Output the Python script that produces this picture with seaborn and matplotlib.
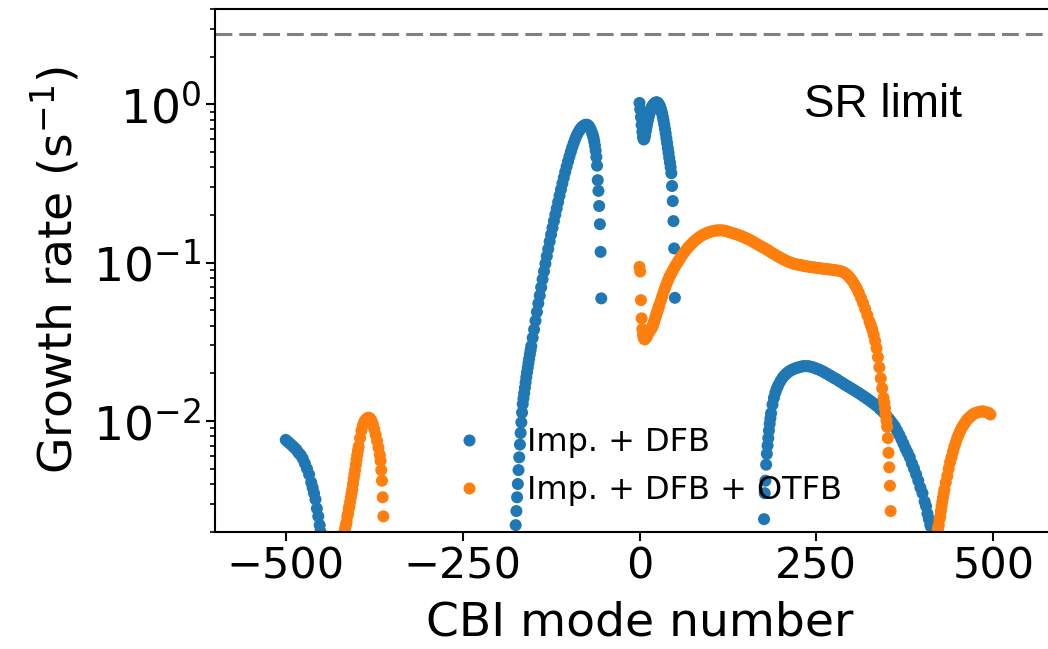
import matplotlib
matplotlib.use("Agg")
import matplotlib.pyplot as plt
import numpy as np
import pandas as pd
import seaborn as sns
from matplotlib.ticker import LogLocator, NullFormatter

# ---------------- data ----------------
series_labels = ["Imp. + DFB", "Imp. + DFB + OTFB"]
series_colors = ["#1f77b4", "#ff7f0e"]
sr_limit = 2.8

# Imp. + DFB (blue)
blue_modes_a = [-500, -497, -494, -491, -488, -485, -482, -479, -476, -473, -470, -467, -464, -462,
                -460, -458, -456, -454, -452, -451]
blue_rates_a = [0.0076, 0.0074, 0.0072, 0.0070, 0.0068, 0.0066, 0.0063, 0.0061, 0.0058, 0.0054,
                0.0050, 0.0046, 0.0041, 0.0038, 0.0035, 0.0032, 0.0028, 0.0025, 0.0022, 0.0020]

blue_modes_b = [-175, -174, -173, -172, -171, -170, -169, -168, -167, -166, -165, -164, -163, -162,
                -161, -160, -159, -158, -157, -156, -155, -154, -153, -151, -149, -147, -145, -143,
                -141, -139, -137, -135, -133, -131, -129, -127, -125, -123, -121, -119, -117, -115,
                -113, -111, -109, -107, -105, -103, -101, -99, -97, -95, -93, -91, -89, -87, -85,
                -83, -81, -79, -77, -75, -73, -71, -69, -67, -66, -65, -64, -63, -62, -61, -60,
                -59, -58, -57, -56, -55, -54]
blue_rates_b = [0.0022, 0.0027, 0.0033, 0.0040, 0.0049, 0.0059, 0.0071, 0.0084, 0.0098, 0.0113,
                0.0128, 0.0139, 0.0150, 0.0162, 0.0175, 0.0189, 0.0203, 0.0217, 0.0232, 0.0247,
                0.0263, 0.0280, 0.0297, 0.0335, 0.0378, 0.0430, 0.0488, 0.0553, 0.0620, 0.0698,
                0.0785, 0.0880, 0.0985, 0.1100, 0.1220, 0.1360, 0.1505, 0.1660, 0.1830, 0.2010,
                0.2200, 0.2415, 0.2650, 0.2900, 0.3165, 0.3445, 0.3740, 0.4045, 0.4365, 0.4700,
                0.5030, 0.5365, 0.5700, 0.6035, 0.6340, 0.6600, 0.6840, 0.7040, 0.7200, 0.7320,
                0.7410, 0.7440, 0.7390, 0.7230, 0.6960, 0.6600, 0.6400, 0.6150, 0.5850, 0.5500,
                0.5100, 0.4650, 0.4100, 0.3320, 0.2840, 0.2280, 0.1750, 0.1170, 0.0595]

blue_modes_c = [0, 1, 2, 3, 4, 5, 6, 7, 8, 9, 10, 11, 12, 13, 14, 15, 16, 17, 18, 19, 20, 21, 22,
                23, 24, 25, 26, 27, 28, 29, 30, 31, 32, 33, 34, 35, 36, 37, 38, 39, 40, 41, 42, 43,
                44, 45, 46, 47, 48, 49, 50]
blue_rates_c = [1.02, 0.93, 0.83, 0.74, 0.67, 0.62, 0.60, 0.61, 0.64, 0.68, 0.72, 0.76, 0.80, 0.835,
                0.87, 0.90, 0.93, 0.95, 0.97, 0.985, 1.00, 1.01, 1.02, 1.025, 1.03, 1.025, 1.02,
                1.005, 0.99, 0.965, 0.94, 0.905, 0.87, 0.83, 0.79, 0.745, 0.70, 0.655, 0.61, 0.57,
                0.53, 0.495, 0.46, 0.43, 0.40, 0.367, 0.305, 0.245, 0.183, 0.123, 0.060]

blue_modes_d = [176, 177, 178, 179, 180, 181, 182, 183, 184, 185, 186, 188, 190, 192, 194, 196, 199,
                202, 205, 208, 211, 214, 217, 220, 223, 226, 229, 232, 235, 238, 241, 244, 247, 250,
                253, 256, 259, 262, 265, 268, 271, 274, 277, 280, 283, 286, 289, 292, 295, 298, 301,
                304, 307, 310, 313, 316, 319, 322, 325, 328, 331, 334, 337, 340, 343, 346, 349, 352,
                355, 358, 361, 364, 367, 370, 373, 376, 379, 382, 385, 388, 391, 394, 397, 400, 403,
                405, 407, 409, 411, 413, 415]
blue_rates_d = [0.0024, 0.0035, 0.0042, 0.0053, 0.0062, 0.0070, 0.0078, 0.0087, 0.0096, 0.0104,
                0.0112, 0.0127, 0.0140, 0.0151, 0.0160, 0.0168, 0.0178, 0.0187, 0.0194, 0.0200,
                0.0205, 0.0209, 0.0212, 0.0215, 0.0217, 0.0219, 0.0221, 0.0222, 0.0222, 0.0222,
                0.0221, 0.0219, 0.0217, 0.0214, 0.0212, 0.0209, 0.0206, 0.0202, 0.0199, 0.0195,
                0.0192, 0.0188, 0.0185, 0.0182, 0.0178, 0.0175, 0.0171, 0.0168, 0.0165, 0.0162,
                0.0159, 0.0156, 0.0153, 0.0150, 0.0147, 0.0144, 0.0141, 0.0138, 0.0135, 0.0132,
                0.0129, 0.0126, 0.0123, 0.0119, 0.0116, 0.0112, 0.0108, 0.0104, 0.0100, 0.0096,
                0.0092, 0.0087, 0.0082, 0.0077, 0.0072, 0.0067, 0.0063, 0.0059, 0.0054, 0.0050,
                0.0046, 0.0042, 0.0038, 0.0035, 0.0031, 0.0029, 0.0026, 0.0024, 0.0022, 0.0021,
                0.0020]

# Imp. + DFB + OTFB (orange)
orange_modes_a = [-417, -416, -415, -414, -413, -412, -411, -410, -409, -408, -407, -406, -405, -404,
                  -403, -402, -401, -400, -399, -398, -397, -395, -393, -391, -389, -387, -385,
                  -383, -381, -379, -377, -375, -373, -371, -369, -367, -366, -365, -364, -363, -362]
orange_rates_a = [0.0020, 0.0021, 0.0022, 0.0023, 0.0025, 0.0026, 0.0028, 0.0029, 0.0031, 0.0033,
                  0.0035, 0.0037, 0.0040, 0.0043, 0.0046, 0.0049, 0.0053, 0.0057, 0.0061, 0.0065,
                  0.0069, 0.0078, 0.0087, 0.0094, 0.0099, 0.0102, 0.0104, 0.0105, 0.0104, 0.0101,
                  0.0096, 0.0089, 0.0082, 0.0075, 0.0068, 0.0061, 0.0056, 0.0049, 0.0042, 0.0033,
                  0.0025]

orange_modes_b = [0, 1, 2, 3, 4, 5, 6, 7, 8, 9, 10, 11, 12, 13, 14, 15, 16, 17, 18, 19, 20, 21, 22,
                  23, 24, 25, 26, 27, 28, 30, 32, 34, 36, 38, 40, 42, 44, 46, 48, 50, 52, 54, 56, 58,
                  61, 64, 67, 70, 73, 76, 79, 82, 85, 88, 91, 94, 97, 100, 103, 106, 109, 112, 115,
                  118, 121, 124, 127, 130, 133, 136, 139, 142, 145, 148, 151, 154, 157, 160, 163, 166,
                  169, 172, 175, 178, 181, 184, 187, 190, 193, 196, 199, 202, 205, 208, 211, 214, 217,
                  220, 223, 226, 229, 232, 235, 238, 241, 244, 247, 250, 253, 256, 259, 262, 265, 268,
                  271, 274, 277, 280, 283, 286, 289, 292, 295, 298, 301, 304, 307, 310, 313, 316, 319,
                  322, 325, 327, 329, 331, 333, 335, 337, 339, 341, 343, 345, 346, 347, 348, 349, 350,
                  351, 352, 353, 354, 355]
orange_rates_b = [0.094, 0.088, 0.058, 0.0445, 0.038, 0.035, 0.0335, 0.0328, 0.0330, 0.0335, 0.0340,
                  0.0348, 0.0355, 0.0362, 0.0368, 0.0374, 0.0380, 0.0386, 0.0392, 0.0403, 0.0415,
                  0.0430, 0.0445, 0.0460, 0.0475, 0.0490, 0.0505, 0.0522, 0.0540, 0.0575, 0.0612,
                  0.0652, 0.0690, 0.0730, 0.0770, 0.0808, 0.0842, 0.0875, 0.0908, 0.0942, 0.0975,
                  0.1008, 0.1042, 0.1075, 0.1124, 0.1173, 0.1220, 0.1265, 0.1307, 0.1348, 0.1387,
                  0.1420, 0.1455, 0.1483, 0.1508, 0.1530, 0.1550, 0.1566, 0.1580, 0.1590, 0.1597,
                  0.1601, 0.1601, 0.1598, 0.1589, 0.1576, 0.1560, 0.1545, 0.1530, 0.1515, 0.1500,
                  0.1483, 0.1465, 0.1445, 0.1425, 0.1405, 0.1383, 0.1360, 0.1336, 0.1312, 0.1288,
                  0.1266, 0.1245, 0.1224, 0.1202, 0.1178, 0.1156, 0.1135, 0.1114, 0.1094, 0.1076,
                  0.1058, 0.1040, 0.1025, 0.1011, 0.0999, 0.0988, 0.0980, 0.0974, 0.0968, 0.0962,
                  0.0956, 0.0950, 0.0945, 0.0940, 0.0936, 0.0932, 0.0928, 0.0924, 0.0920, 0.0917,
                  0.0913, 0.0910, 0.0907, 0.0904, 0.0900, 0.0896, 0.0892, 0.0886, 0.0878, 0.0866,
                  0.0849, 0.0825, 0.0796, 0.0765, 0.0728, 0.0690, 0.0645, 0.0600, 0.0555, 0.0510,
                  0.0466, 0.0425, 0.0402, 0.0377, 0.0350, 0.0320, 0.0288, 0.0253, 0.0218, 0.0186,
                  0.0161, 0.0140, 0.0130, 0.0120, 0.0110, 0.0101, 0.0092, 0.0078, 0.0063, 0.0051,
                  0.0039, 0.0027]

orange_modes_c = [421, 422, 423, 424, 425, 426, 427, 428, 429, 430, 431, 433, 435, 437, 439, 441,
                  443, 445, 447, 449, 451, 453, 455, 457, 459, 461, 463, 465, 467, 469, 471, 474,
                  477, 480, 483, 486, 489, 492, 494, 496]
orange_rates_c = [0.0020, 0.0021, 0.0022, 0.0024, 0.0025, 0.0027, 0.0029, 0.0031, 0.0033, 0.0035,
                  0.0037, 0.0041, 0.0045, 0.0050, 0.0055, 0.0059, 0.0064, 0.0069, 0.0073, 0.0078,
                  0.0082, 0.0086, 0.0090, 0.0093, 0.0096, 0.0099, 0.0102, 0.0104, 0.0106, 0.0108,
                  0.0110, 0.0112, 0.0113, 0.0114, 0.0115, 0.0115, 0.0114, 0.0113, 0.0112, 0.0110]

blue_modes = blue_modes_a + blue_modes_b + blue_modes_c + blue_modes_d
blue_rates = blue_rates_a + blue_rates_b + blue_rates_c + blue_rates_d
orange_modes = orange_modes_a + orange_modes_b + orange_modes_c
orange_rates = orange_rates_a + orange_rates_b + orange_rates_c

df = pd.concat([
    pd.DataFrame({"mode": blue_modes, "rate": blue_rates, "series": series_labels[0]}),
    pd.DataFrame({"mode": orange_modes, "rate": orange_rates, "series": series_labels[1]}),
], ignore_index=True)

# ---------------- figure ----------------
sns.set_style("ticks")
plt.rcParams["font.family"] = ["DejaVu Sans"]
plt.rcParams["mathtext.fontset"] = "dejavusans"
for key in ["text.color", "axes.labelcolor", "xtick.color", "ytick.color", "axes.edgecolor"]:
    plt.rcParams[key] = "black"

W, H = 1048, 649
fig = plt.figure(figsize=(W / 100, H / 100), dpi=100)
ax_left, ax_right, ax_top, ax_bottom = 215, 1064, 9, 531.7
ax = fig.add_axes([ax_left / W, 1 - ax_bottom / H, (ax_right - ax_left) / W, (ax_bottom - ax_top) / H])

sns.scatterplot(data=df, x="mode", y="rate", hue="series", hue_order=series_labels,
                palette=series_colors, s=75, linewidth=0, edgecolor="none", ax=ax, legend=True)

ax.set_yscale("log")
ax.set_xlim(-600, 600)
ax.set_ylim(2e-3, 4)
ax.axhline(sr_limit, color="#808080", lw=2.2, ls=(0, (5.5, 2.3)), zorder=1)

ax.set_xticks([-500, -250, 0, 250, 500])
ax.yaxis.set_major_locator(LogLocator(base=10, numticks=10))
ax.yaxis.set_minor_locator(LogLocator(base=10, subs=np.arange(2, 10), numticks=20))
ax.yaxis.set_minor_formatter(NullFormatter())

ax.set_xlabel("CBI mode number", fontsize=34, labelpad=9)
ax.set_ylabel("Growth rate (s$^{-1}$)", fontsize=34, labelpad=8)
ax.tick_params(axis="x", which="major", labelsize=31, length=6.5, width=1.5, color="black")
ax.tick_params(axis="y", which="major", labelsize=34, length=6.5, width=1.5, color="black")
ax.tick_params(axis="y", which="minor", length=3.6, width=1.2, color="black")
for sp in ax.spines.values():
    sp.set_color("black")
    sp.set_linewidth(1.5)

ax.text(233, 0.83, "SR limit", fontsize=33, color="black",
        family=["Liberation Sans", "DejaVu Sans"], ha="left", va="baseline")

handles, labels = ax.get_legend_handles_labels()
ax.legend(handles, labels, loc="upper left", bbox_to_anchor=(424.7 / W, 1 - 414 / H),
          bbox_transform=fig.transFigure, frameon=False, fontsize=23, labelspacing=0.55,
          borderaxespad=0, handletextpad=0.8, handlelength=2.0)

fig.savefig("out.png", dpi=100)
